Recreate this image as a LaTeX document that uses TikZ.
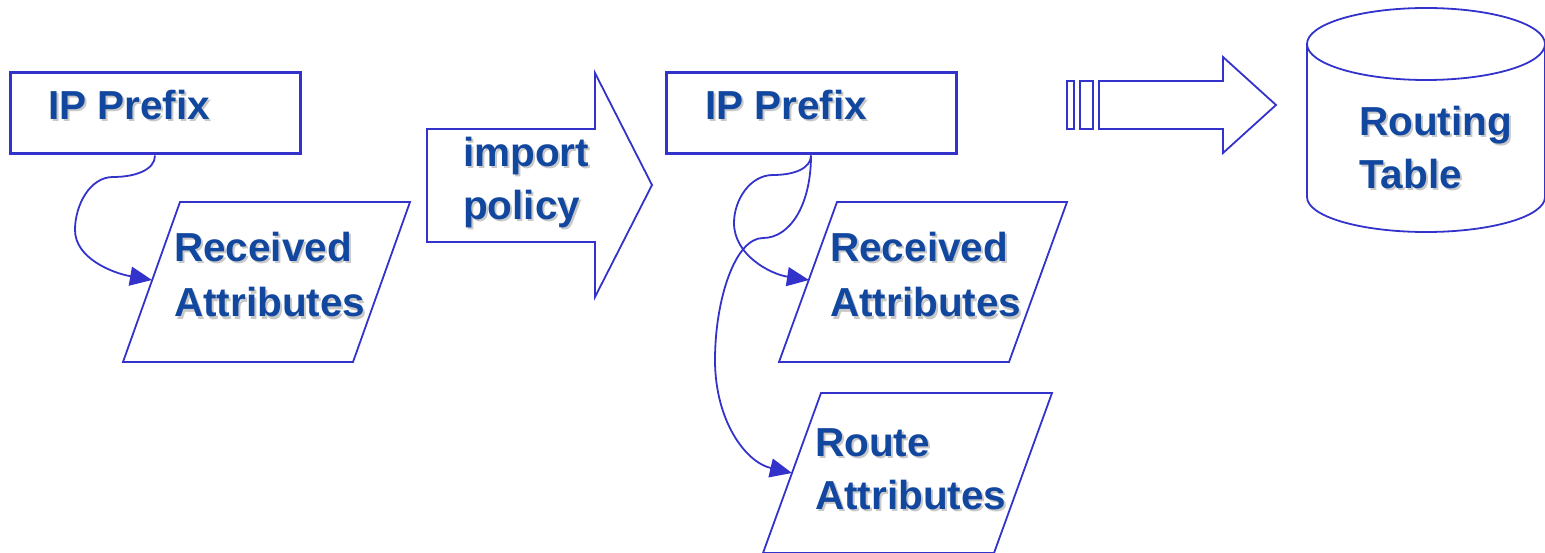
\documentclass[tikz,border=0pt]{standalone}
\usepackage{fontspec}
\setmainfont{Liberation Sans}
\usetikzlibrary{arrows.meta}

\definecolor{lineblue}{RGB}{51,51,204}
\definecolor{textblue}{RGB}{17,71,158}
\definecolor{shadowgray}{RGB}{200,200,200}

% bold label with a soft grey drop shadow
\newcommand\shadowed[1]{\makebox[0pt][l]{\hspace{2pt}\raisebox{-2pt}{\color{shadowgray}#1}}#1}

\tikzset{
  outline/.style={draw=lineblue, line width=1.8pt, line join=miter},
  prefixbox/.style={draw=lineblue, line width=3pt, minimum width=290pt,
    minimum height=81pt, inner sep=0pt},
  % base anchor of a multi-line label sits on its last line
  lbl/.style={text=textblue, inner sep=0pt, anchor=base west, align=left,
    font=\bfseries\fontsize{40.5}{55}\selectfont},
  link/.style={draw=lineblue, line width=1.8pt,
    -{Triangle[length=22pt,width=19pt]}},
}

\begin{document}
\begin{tikzpicture}[x=1pt,y=-1pt]
\useasboundingbox (0,0) rectangle (1545,553);

% ---- left: incoming route ----
\node[prefixbox] (pfx1) at (155,113.5) {};
\node[lbl] (pfx1t) at (48,120) {\shadowed{IP Prefix}};

\draw[outline] (180,202) -- (410,202) -- (353,362) -- (123,362) -- cycle;
\coordinate (recv1in) at (152,280);
\node[lbl] (recv1t) at (174,317) {\shadowed{Received}\\\shadowed{Attributes}};

\draw[link] (pfx1.south) .. controls (155,170) and (135,177) .. (113,177)
  .. controls (90,177) and (75,205) .. (75,230)
  .. controls (75,258) and (112,273) .. (recv1in);

% ---- import policy block arrow ----
\draw[outline] (427,129) -- (595,129) -- (595,73) -- (652,185) -- (595,297)
  -- (595,242) -- (427,242) -- cycle;
\node[lbl, font=\bfseries\fontsize{40.5}{53}\selectfont] (policyt) at (463,220)
  {\shadowed{import}\\\shadowed{policy}};

% ---- middle: route after import ----
\node[prefixbox] (pfx2) at (811,113.5) {};
\node[lbl] (pfx2t) at (705,120) {\shadowed{IP Prefix}};

\draw[outline] (837,202) -- (1067,202) -- (1009,362) -- (779,362) -- cycle;
\coordinate (recv2in) at (809,280);
\node[lbl] (recv2t) at (830,317) {\shadowed{Received}\\\shadowed{Attributes}};

\draw[outline] (821,393) -- (1052,393) -- (994,553) -- (763,553) -- cycle;
\coordinate (routein) at (792,473);
\node[lbl, font=\bfseries\fontsize{40.5}{53}\selectfont] (routet) at (815,509)
  {\shadowed{Route}\\\shadowed{Attributes}};

\draw[link] (pfx2.south) .. controls (811,168) and (795,175) .. (773,175)
  .. controls (750,175) and (734,200) .. (734,223)
  .. controls (734,255) and (770,274) .. (recv2in);
\draw[link] (pfx2.south) .. controls (811,205) and (790,238) .. (763,238)
  .. controls (735,238) and (715,300) .. (715,360)
  .. controls (715,420) and (745,462) .. (routein);

% ---- broken block arrow into the table ----
\draw[outline] (1067,81) rectangle (1074,129);
\draw[outline] (1080,81) rectangle (1093,129);
\draw[outline] (1099,81) -- (1223,81) -- (1223,57) -- (1276,105) -- (1223,153)
  -- (1223,129) -- (1099,129) -- cycle;

% ---- routing table (cylinder) ----
\draw[outline] (1426,44) ellipse [x radius=119, y radius=36];
\draw[outline] (1307,44) -- (1307,197) arc[start angle=180, end angle=0,
  x radius=119, y radius=35] -- (1545,44);
\node[lbl, font=\bfseries\fontsize{40.5}{53}\selectfont] (tablet) at (1359,189)
  {\shadowed{Routing}\\\shadowed{Table}};
\end{tikzpicture}
\end{document}
